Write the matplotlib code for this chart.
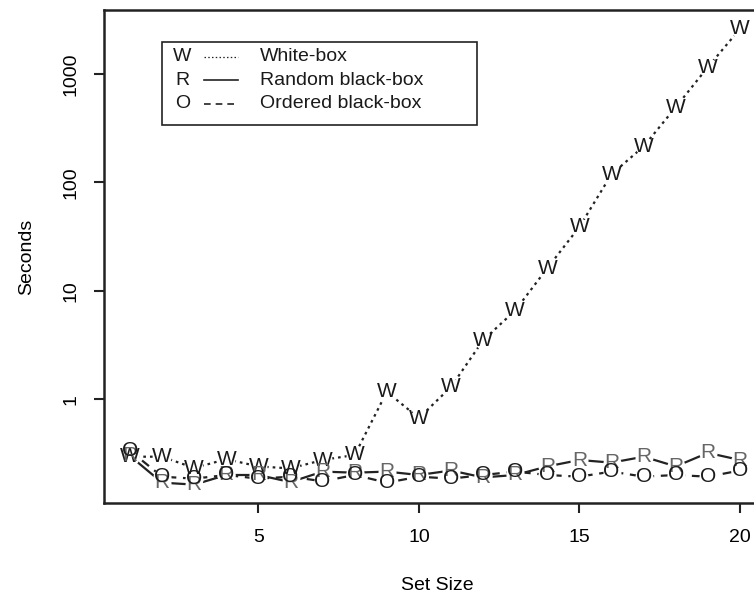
import matplotlib
matplotlib.use("Agg")
import matplotlib.pyplot as plt
from matplotlib.lines import Line2D
from matplotlib.patches import Rectangle

plt.rcParams['font.family'] = ['Liberation Sans', 'DejaVu Sans']

# set sizes and timings (seconds)
set_size = list(range(1, 21))
white_box = [0.295, 0.295, 0.232, 0.28, 0.24, 0.23, 0.275, 0.306, 1.17, 0.67,
             1.3, 3.5, 6.6, 16.2, 39, 119, 215, 495, 1160, 2610]
random_bb = [0.30, 0.17, 0.163, 0.2, 0.2, 0.172, 0.215, 0.21, 0.215, 0.2,
             0.22, 0.19, 0.2, 0.24, 0.275, 0.26, 0.295, 0.24, 0.32, 0.275]
ordered_bb = [0.335, 0.193, 0.185, 0.2, 0.185, 0.193, 0.175, 0.2, 0.17, 0.193,
              0.185, 0.2, 0.215, 0.2, 0.193, 0.215, 0.193, 0.2, 0.193, 0.22]

series = [
    ('W', 'White-box', white_box, (0, (1.2, 1.8)), '#1a1a1a'),
    ('R', 'Random black-box', random_bb, '-', '#666666'),
    ('O', 'Ordered black-box', ordered_bb, (0, (4, 3)), '#1a1a1a'),
]

fig = plt.figure(figsize=(7.54, 5.95), dpi=100)
ax = fig.add_axes([0.1383, 0.1551, 0.8772, 0.828])
ax.set_yscale('log')
ax.set_xlim(0.2, 20.8)
ax.set_ylim(0.111, 3890)

# lines first, then white blobs to cut gaps, then the letters (like R type="b")
for ch, lab, vals, ls, col in series:
    ax.plot(set_size, vals, color='#222222', linestyle=ls, lw=1.6, zorder=2)
for ch, lab, vals, ls, col in series:
    ax.plot(set_size, vals, linestyle='none', marker='o', ms=13,
            mfc='white', mec='none', zorder=3)
for ch, lab, vals, ls, col in series:
    for x, y in zip(set_size, vals):
        ax.text(x, y, ch, ha='center', va='center', fontsize=15,
                color=col, zorder=4)

ax.set_xticks([5, 10, 15, 20])
ax.set_yticks([1, 10, 100, 1000])
ax.set_yticklabels(['1', '10', '100', '1000'], rotation=90, va='center')
ax.minorticks_off()
ax.tick_params(axis='both', labelsize=14, length=7, width=1.5, color='#222222')
ax.tick_params(axis='x', pad=12)
ax.tick_params(axis='y', pad=11)
for s in ax.spines.values():
    s.set_linewidth(1.8)
    s.set_color('#222222')

ax.set_xlabel('Set Size', fontsize=14)
ax.set_ylabel('Seconds', fontsize=14)
ax.xaxis.set_label_coords(0.504, -0.150)
ax.yaxis.set_label_coords(-0.105, 0.5)

# legend box drawn by hand to match the R legend layout
ax.add_patch(Rectangle((0.0872, 0.7666), 0.4763, 0.1684, transform=ax.transAxes,
                       fill=False, lw=1.2, edgecolor='#222222', zorder=5))
rows = [0.9052, 0.858, 0.8102]
for (ch, lab, vals, ls, col), yy in zip(series, rows):
    ax.text(0.1178, yy, ch, transform=ax.transAxes, ha='center', va='center',
            fontsize=14, color='#1a1a1a')
    ax.add_line(Line2D([0.1508, 0.2022], [yy, yy], transform=ax.transAxes,
                       color='#222222', linestyle=ls,
                       lw=0.9 if ch == 'W' else 1.2))
    ax.text(0.2354, yy, lab, transform=ax.transAxes, ha='left', va='center',
            fontsize=14, color='#1a1a1a')

fig.savefig('out.png', dpi=100)
